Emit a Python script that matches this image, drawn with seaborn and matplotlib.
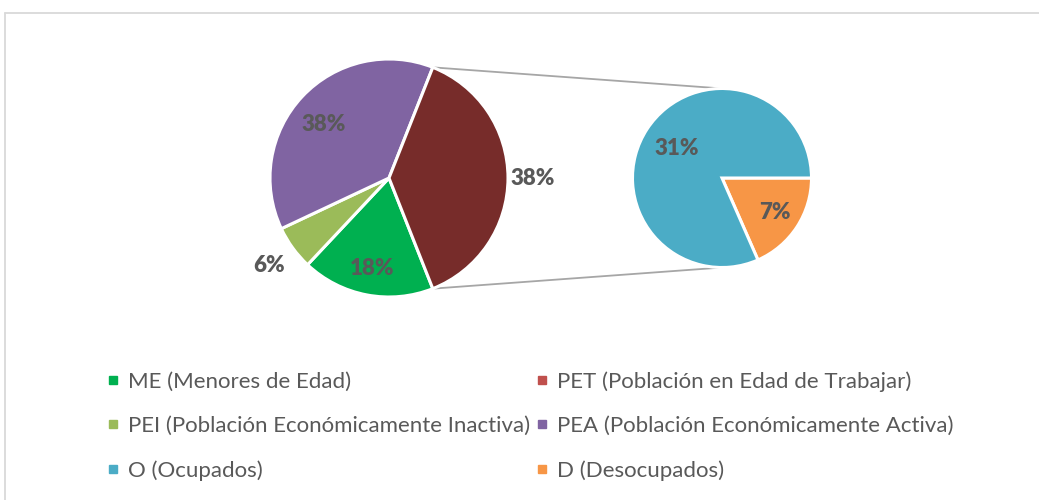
import numpy as np
import matplotlib
matplotlib.use("Agg")
import matplotlib.pyplot as plt
import seaborn as sns
from matplotlib.lines import Line2D

# ---- data ----
main_labels = ["ME (Menores de Edad)",
               "PEI (Población Económicamente Inactiva)",
               "PEA (Población Económicamente Activa)",
               "PET (Población en Edad de Trabajar)"]
main_values = [18, 6, 38, 38]
sub_labels = ["D (Desocupados)", "O (Ocupados)"]
sub_values = [7, 31]

legend_order = ["ME (Menores de Edad)",
                "PEI (Población Económicamente Inactiva)",
                "O (Ocupados)",
                "PET (Población en Edad de Trabajar)",
                "PEA (Población Económicamente Activa)",
                "D (Desocupados)"]

# ---- style ----
main_colors = ["#00B050", "#9BBB59", "#8064A2", "#772C2A"]
sub_colors = ["#F79646", "#4BACC6"]
legend_colors = {"ME (Menores de Edad)": "#00B050",
                 "PEI (Población Económicamente Inactiva)": "#9BBB59",
                 "O (Ocupados)": "#4BACC6",
                 "PET (Población en Edad de Trabajar)": "#C0504D",
                 "PEA (Población Económicamente Activa)": "#8064A2",
                 "D (Desocupados)": "#F79646"}
main_label_dist = [0.775, 1.25, 0.71, 1.21]
main_label_shift = [0, 0, 4, 0]
sub_label_dist = [0.71, 0.60]
sub_label_shift = [0, 0]
text_color = "#595959"

sns.set_theme(style="white")
plt.rcParams['font.family'] = ['Lato', 'DejaVu Sans']

W, H = 1039, 500
fig = plt.figure(figsize=(W / 100, H / 100), dpi=100)
fig.patch.set_facecolor("white")
ax = fig.add_axes([0, 0, 1, 1])

main_center, main_r = (389, 322), 119
sub_center, sub_r = (722, 322), 89.5

pet_share = main_values[-1] / sum(main_values)
wedges_m, _ = ax.pie(main_values, colors=main_colors, center=main_center, radius=main_r,
                     startangle=-pet_share * 180, counterclock=False,
                     wedgeprops=dict(edgecolor="white", linewidth=2.2))
wedges_s, _ = ax.pie(sub_values, colors=sub_colors, center=sub_center, radius=sub_r,
                     startangle=0, counterclock=False,
                     wedgeprops=dict(edgecolor="white", linewidth=2.2))

def put_labels(wedges, values, dists, shifts, center, r):
    for w, v, d, s in zip(wedges, values, dists, shifts):
        a = np.deg2rad((w.theta1 + w.theta2) / 2 + s)
        ax.text(center[0] + d * r * np.cos(a), center[1] + d * r * np.sin(a), f"{v}%",
                ha="center", va="center", fontsize=16, fontweight="heavy", color=text_color)

put_labels(wedges_m, main_values, main_label_dist, main_label_shift, main_center, main_r)
put_labels(wedges_s, sub_values, sub_label_dist, sub_label_shift, sub_center, sub_r)

# connector lines from the PET wedge edges to the top/bottom of the sub pie
pet = wedges_m[-1]
for ang, sgn in ((pet.theta2, 1), (pet.theta1, -1)):
    a = np.deg2rad(ang)
    x0 = main_center[0] + main_r * np.cos(a)
    y0 = main_center[1] + main_r * np.sin(a)
    ax.plot([x0, sub_center[0]], [y0, sub_center[1] + sgn * sub_r],
            color="#A6A6A6", lw=1.3, zorder=0)

# chart border (top and left visible)
ax.plot([4.5, W], [H - 12.5, H - 12.5], color="#D9D9D9", lw=1.3)
ax.plot([4.5, 4.5], [0, H - 12.5], color="#D9D9D9", lw=1.3)

ax.set_xlim(0, W)
ax.set_ylim(0, H)
ax.set_aspect("equal")
ax.axis("off")

handles = [Line2D([], [], marker="s", linestyle="none", markersize=5.5,
                  markerfacecolor=legend_colors[l], markeredgecolor=legend_colors[l])
           for l in legend_order]
fig.legend(handles, legend_order, ncol=2, loc="upper left",
           bbox_to_anchor=(106 / W, 1 - 371 / H), frameon=False,
           fontsize=16, labelcolor=text_color, handlelength=0.6, handletextpad=0.4,
           columnspacing=0.22, labelspacing=1.1, borderpad=0, borderaxespad=0)

fig.savefig("out.png", dpi=100, facecolor="white")
